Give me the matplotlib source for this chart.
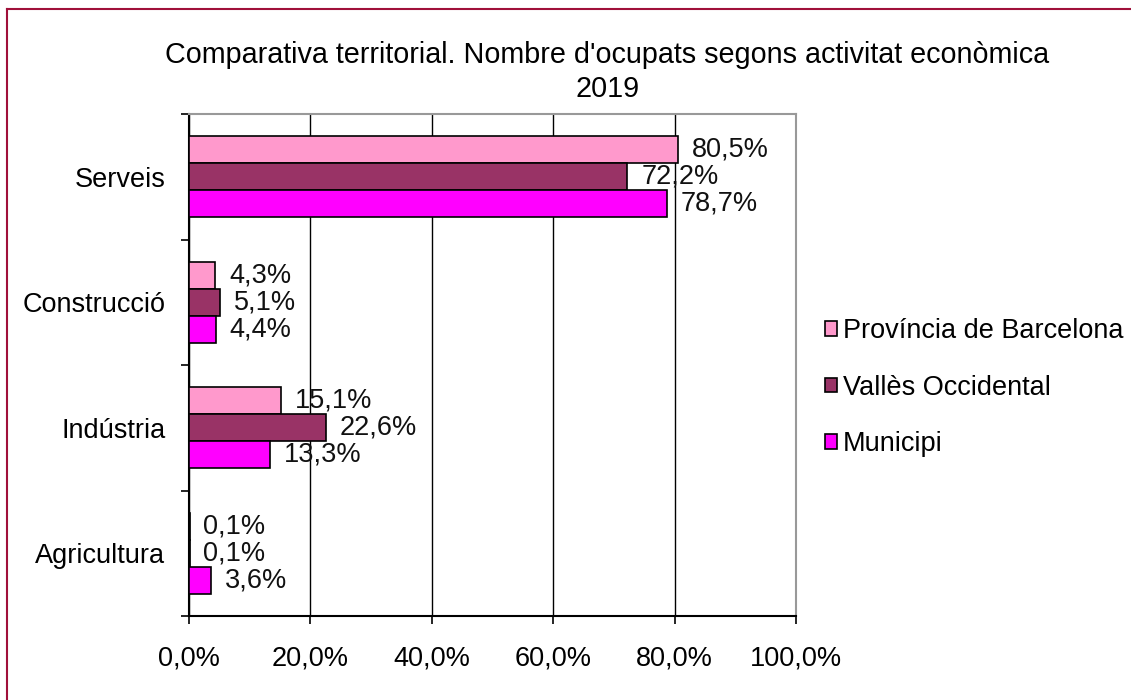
import matplotlib.pyplot as plt
import numpy as np
from matplotlib.lines import Line2D

plt.rcParams['font.family'] = ['Liberation Sans', 'DejaVu Sans']

categories = ['Agricultura', 'Indústria', 'Construcció', 'Serveis']
series_names = ['Província de Barcelona', 'Vallès Occidental', 'Municipi']
provincia = [0.1, 15.1, 4.3, 80.5]
valles = [0.1, 22.6, 5.1, 72.2]
municipi = [3.6, 13.3, 4.4, 78.7]
colors = ['#FF99CC', '#993366', '#FF00FF']
xticks = [0, 20, 40, 60, 80, 100]

fs = 19.5

fig = plt.figure(figsize=(11.31, 7.0), dpi=100)
ax = fig.add_axes([0.1671, 0.12, 0.5367, 0.717])

y = np.arange(len(categories))
h = 0.215
offsets = [h, 0, -h]
for vals, name, col, off in zip([provincia, valles, municipi], series_names, colors, offsets):
    bars = ax.barh(y + off, vals, height=h, color=col, edgecolor='black', linewidth=1.2,
                   label=name, zorder=3)
    for b, v in zip(bars, vals):
        ax.annotate(f'{v:.1f}%'.replace('.', ','), (b.get_width(), b.get_y() + h / 2),
                    xytext=(10, 0), textcoords='offset points', va='center', ha='left',
                    fontsize=fs, color='#111111', zorder=4)

ax.set_xlim(0, 100)
ax.set_ylim(-0.5, 3.5)
ax.set_xticks(xticks)
ax.set_xticklabels([f'{t:.1f}%'.replace('.', ',') for t in xticks], fontsize=fs)
ax.set_yticks(y)
ax.set_yticklabels(categories, fontsize=fs)
ax.set_yticks(np.arange(-0.5, 4.0, 1.0), minor=True)
ax.tick_params(axis='y', which='major', length=0, pad=17)
ax.tick_params(axis='y', which='minor', length=6, width=1.2, direction='out')
ax.tick_params(axis='x', length=6, width=1.2, direction='out', pad=15)
ax.xaxis.grid(True, color='black', linewidth=1, zorder=0)
ax.spines['left'].set_linewidth(1.5)
ax.spines['bottom'].set_linewidth(1.5)
ax.spines['top'].set_color('#999999')
ax.spines['right'].set_color('#999999')
ax.spines['top'].set_linewidth(1.5)
ax.spines['right'].set_linewidth(1.5)

fig.text(0.537, 0.897, "Comparativa territorial. Nombre d'ocupats segons activitat econòmica\n2019",
         ha='center', va='center', fontsize=20.7, linespacing=1.25)

ax.legend(loc='center left', bbox_to_anchor=(1.048, 0.455), frameon=False, fontsize=fs,
          handlelength=0.45, handleheight=0.45, handletextpad=0.2, labelspacing=1.13,
          borderaxespad=0, borderpad=0)

fig.add_artist(Line2D([0.0062, 1.0], [0.987, 0.987], color='#A0103A', linewidth=1.5))
fig.add_artist(Line2D([0.0062, 0.0062], [0.0, 0.987], color='#A0103A', linewidth=1.5))

fig.savefig('out.png', dpi=100)
